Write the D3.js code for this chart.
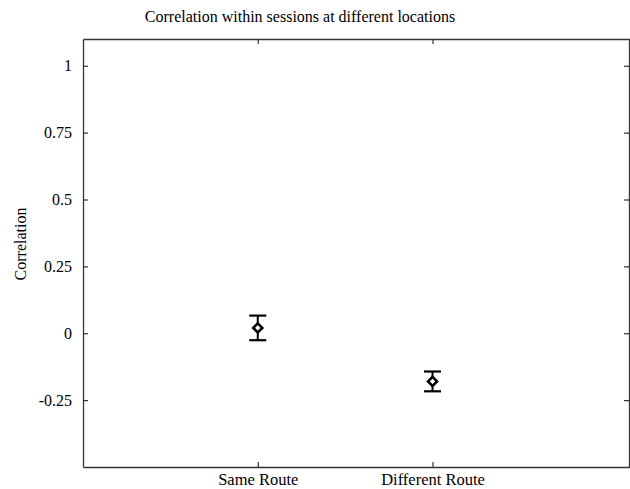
<!DOCTYPE html>
<html><head><meta charset="utf-8">
<script src="https://cdn.jsdelivr.net/npm/d3@7/dist/d3.min.js"></script>
<style>body{margin:0;background:#fff}svg{display:block}text{font-family:"Liberation Serif","Times New Roman",serif;fill:#000}</style>
</head><body><svg id="c" width="630" height="489"></svg>
<script>
const categories = ["Same Route", "Different Route"];
const categoryPos = [1, 2];
const means = [0.02, -0.18];
const errors = [0.046, 0.037];
const yTicks = [-0.25, 0, 0.25, 0.5, 0.75, 1];
const yTickLabels = ["-0.25", "0", "0.25", "0.5", "0.75", "1"];
const title = "Correlation within sessions at different locations";
const yLabel = "Correlation";

const svg = d3.select("#c");
const L = 83, R = 630, T = 39, B = 467;
const x = d3.scaleLinear().domain([0, 3.13]).range([L, R]);
const y = d3.scaleLinear().domain([-0.5, 1.1]).range([B, T]);

const yAxisL = d3.axisLeft(y).tickValues(yTicks).tickFormat((d,i)=>yTickLabels[i]).tickSizeInner(-5).tickSizeOuter(0).tickPadding(11);
const gy = svg.append("g").attr("transform",`translate(${L},0)`).call(yAxisL);
gy.selectAll("text").style("font-size","16px").style("font-family","Liberation Serif");
const yAxisR = d3.axisRight(y).tickValues(yTicks).tickFormat("").tickSizeInner(-5).tickSizeOuter(0);
svg.append("g").attr("transform",`translate(${R-1},0)`).call(yAxisR);
const xAxisB = d3.axisBottom(x).tickValues(categoryPos).tickFormat((d,i)=>categories[i]).tickSizeInner(-5).tickSizeOuter(0).tickPadding(6);
const gx = svg.append("g").attr("transform",`translate(0,${B})`).call(xAxisB);
gx.selectAll("text").style("font-size","16.5px").style("font-family","Liberation Serif");
const xAxisT = d3.axisTop(x).tickValues(categoryPos).tickFormat("").tickSizeInner(-5).tickSizeOuter(0);
svg.append("g").attr("transform",`translate(0,${T})`).call(xAxisT);
svg.selectAll(".domain").attr("stroke","#333").attr("stroke-width",1.3);
svg.selectAll(".tick line").attr("stroke","#333").attr("stroke-width",1.2);

const g = svg.append("g");
const cap = 8.5;
means.forEach((m,i)=>{
  const cx = x(categoryPos[i]);
  g.append("line").attr("x1",cx).attr("x2",cx).attr("y1",y(m+errors[i])).attr("y2",y(m-errors[i])).attr("stroke","#000").attr("stroke-width",2);
  [m+errors[i], m-errors[i]].forEach(v=>{
    g.append("line").attr("x1",cx-cap).attr("x2",cx+cap).attr("y1",y(v)).attr("y2",y(v)).attr("stroke","#000").attr("stroke-width",2.2);
  });
  const cy = y(m), r = 4.5;
  g.append("path").attr("d",`M${cx},${cy-r}L${cx+r},${cy}L${cx},${cy+r}L${cx-r},${cy}Z`).attr("fill","#fff").attr("stroke","#000").attr("stroke-width",2.6);
});

svg.append("text").attr("x",300).attr("y",22).attr("text-anchor","middle").style("font-size","16px").text(title);
svg.append("text").attr("transform","translate(26,244) rotate(-90)").attr("text-anchor","middle").style("font-size","16px").text(yLabel);
</script></body></html>
